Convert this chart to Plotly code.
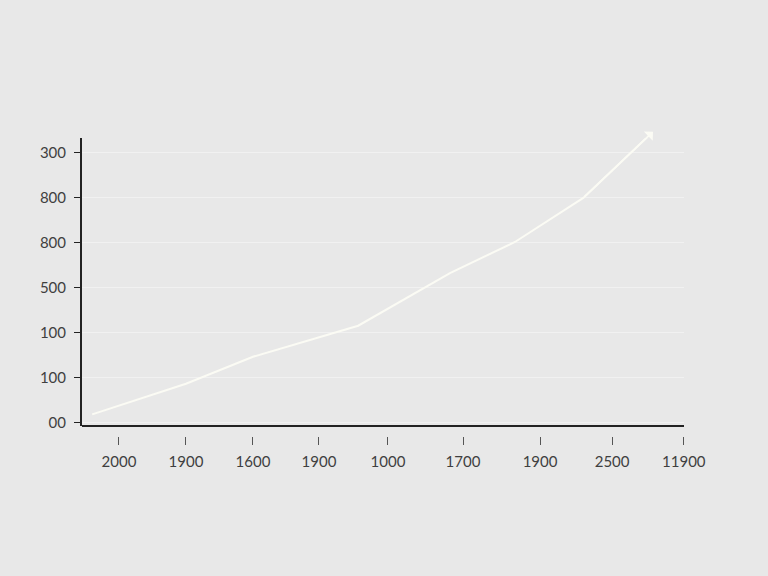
import plotly.graph_objects as go

# values (x in tick-index units, y in gridline units)
x_vals = [-0.40, 1.0, 2.0, 2.98, 3.57, 4.94, 5.91, 6.93, 7.97]
y_vals = [0.19, 0.87, 1.47, 1.89, 2.16, 3.33, 4.02, 5.0, 6.47]

x_tick_pos = [0, 1, 2, 2.985, 4.015, 5.135, 6.285, 7.36, 8.43]
x_tick_text = ["2000", "1900", "1600", "1900", "1000", "1700", "1900", "2500", "11900"]

y_tick_pos = [0, 1, 2, 3, 4, 5, 6]
y_tick_text = ["00", "100", "100", "500", "800", "800", "300"]

BG = "#e8e8e8"
LINE = "#fbfbf4"
AXIS = "#222222"
TEXT = "#3f3f3f"

fig = go.Figure()
fig.add_trace(go.Scatter(
    x=x_vals, y=y_vals, mode="lines",
    line=dict(color=LINE, width=2),
    cliponaxis=False, showlegend=False, hoverinfo="skip",
))

# arrow head on the last segment
fig.add_annotation(
    x=x_vals[-1], y=y_vals[-1], ax=x_vals[-2], ay=y_vals[-2],
    xref="x", yref="y", axref="x", ayref="y",
    text="", showarrow=True, arrowhead=1, arrowsize=1.2,
    arrowwidth=1.8, arrowcolor=LINE, standoff=0,
)

# x axis line sits above the tick marks, so draw it as a shape
fig.add_shape(
    type="line", xref="x domain", yref="y domain",
    x0=0, x1=1, y0=0, y1=0,
    line=dict(color=AXIS, width=2),
)

fig.update_layout(
    width=768, height=576,
    paper_bgcolor=BG, plot_bgcolor=BG,
    font=dict(family="Lato, Open Sans, sans-serif", size=15, color=TEXT),
    margin=dict(l=82, r=84, t=138, b=140),
    xaxis=dict(
        range=[-0.552, 8.433], anchor="free", position=0,
        tickmode="array", tickvals=x_tick_pos, ticktext=x_tick_text,
        ticks="outside", ticklen=8, tickwidth=1, tickcolor="#555555",
        ticklabelstandoff=4,
        showline=False, showgrid=False, zeroline=False,
    ),
    yaxis=dict(
        range=[-0.067, 6.33], domain=[0.0336, 1],
        tickmode="array", tickvals=y_tick_pos, ticktext=y_tick_text,
        ticks="outside", ticklen=6, tickwidth=1, tickcolor=AXIS,
        ticklabelstandoff=5,
        showline=True, linecolor=AXIS, linewidth=2,
        showgrid=True, gridcolor="#f1f1f1", gridwidth=1,
        zeroline=False,
    ),
)

fig.write_html(
    "out.html",
    config={"displayModeBar": False},
    post_script="document.body.style.margin='0';document.body.style.background='%s';" % BG,
)
